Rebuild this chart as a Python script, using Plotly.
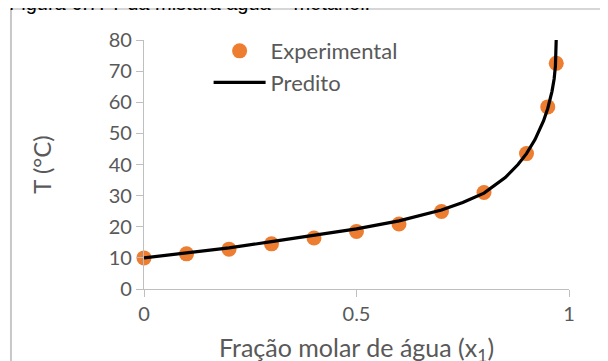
import plotly.graph_objects as go

# Experimental data
x_exp = [0.0, 0.1, 0.2, 0.3, 0.4, 0.5, 0.6, 0.7, 0.8, 0.9, 0.95, 0.97]
T_exp = [10.0, 11.3, 12.8, 14.5, 16.4, 18.5, 20.9, 24.9, 31.0, 43.5, 58.5, 72.5]

# Predicted curve
x_pred = [0.0, 0.1, 0.2, 0.3, 0.4, 0.5, 0.6, 0.7, 0.75, 0.8, 0.85, 0.88, 0.9,
          0.92, 0.94, 0.95, 0.96, 0.965, 0.968, 0.9695, 0.9705, 0.971]
T_pred = [10.0, 11.5, 13.2, 15.2, 17.3, 19.3, 21.9, 25.4, 27.8, 30.8, 35.8, 40.0, 43.5,
          48.0, 54.0, 58.0, 63.5, 67.5, 71.5, 75.0, 80.0, 85.0]

x_ticks = [0, 0.5, 1]
x_tick_labels = ["0", "0.5", "1"]
y_ticks = [0, 10, 20, 30, 40, 50, 60, 70, 80]

font_family = "Lato, 'Open Sans', sans-serif"
grey = "#595959"
frame_color = "#c8c8c8"

fig = go.Figure()
fig.add_trace(go.Scatter(
    x=x_exp, y=T_exp, mode="markers", name="Experimental",
    marker=dict(color="#ED7D31", size=15, line=dict(width=0)),
    cliponaxis=False,
))
fig.add_trace(go.Scatter(
    x=x_pred, y=T_pred, mode="lines", name="Predito",
    line=dict(color="black", width=3.2),
))

fig.update_layout(
    width=608, height=361,
    margin=dict(l=136, r=47, t=32, b=80, autoexpand=False),
    paper_bgcolor="white", plot_bgcolor="white",
    font=dict(family=font_family, size=21, color=grey),
    showlegend=True,
    legend=dict(
        x=0.152, y=1.04, xanchor="left", yanchor="top",
        bgcolor="rgba(0,0,0,0)", font=dict(size=22, color=grey),
        tracegroupgap=0, itemwidth=52,
    ),
    xaxis=dict(
        range=[0, 1], tickvals=x_ticks, ticktext=x_tick_labels,
        showgrid=False, zeroline=False, automargin=False,
        showline=True, linecolor="#bfbfbf", linewidth=1.3,
        ticks="outside", ticklen=7, tickcolor="#bfbfbf", tickwidth=1.3,
        tickfont=dict(size=20, color=grey),
        title=dict(text="Fração molar de água (x<sub>1</sub>)", font=dict(size=25, color=grey), standoff=15),
    ),
    yaxis=dict(
        range=[0, 80], tickvals=y_ticks,
        showgrid=False, zeroline=False, automargin=False,
        showline=True, linecolor="#bfbfbf", linewidth=1.3,
        ticks="outside", ticklen=7, tickcolor="#bfbfbf", tickwidth=1.3,
        tickfont=dict(size=20, color=grey),
        title=dict(text="T (°C)", font=dict(size=24, color=grey), standoff=50),
    ),
    shapes=[
        dict(type="line", xref="paper", yref="paper",
             x0=-0.313, x1=1.3, y0=1.1243, y1=1.1243,
             line=dict(color=frame_color, width=1.5), layer="above"),
        dict(type="line", xref="paper", yref="paper",
             x0=-0.313, x1=-0.313, y0=-0.35, y1=1.1243,
             line=dict(color=frame_color, width=2), layer="above"),
    ],
    annotations=[dict(
        text="Figura 6.7: T da mistura água + metanol.",
        xref="paper", yref="paper", x=-0.322, y=1.098,
        xanchor="left", yanchor="bottom", showarrow=False,
        font=dict(family="Liberation Sans, Arial, sans-serif", size=20, color="black"),
    )],
)

fig.write_html("out.html")
